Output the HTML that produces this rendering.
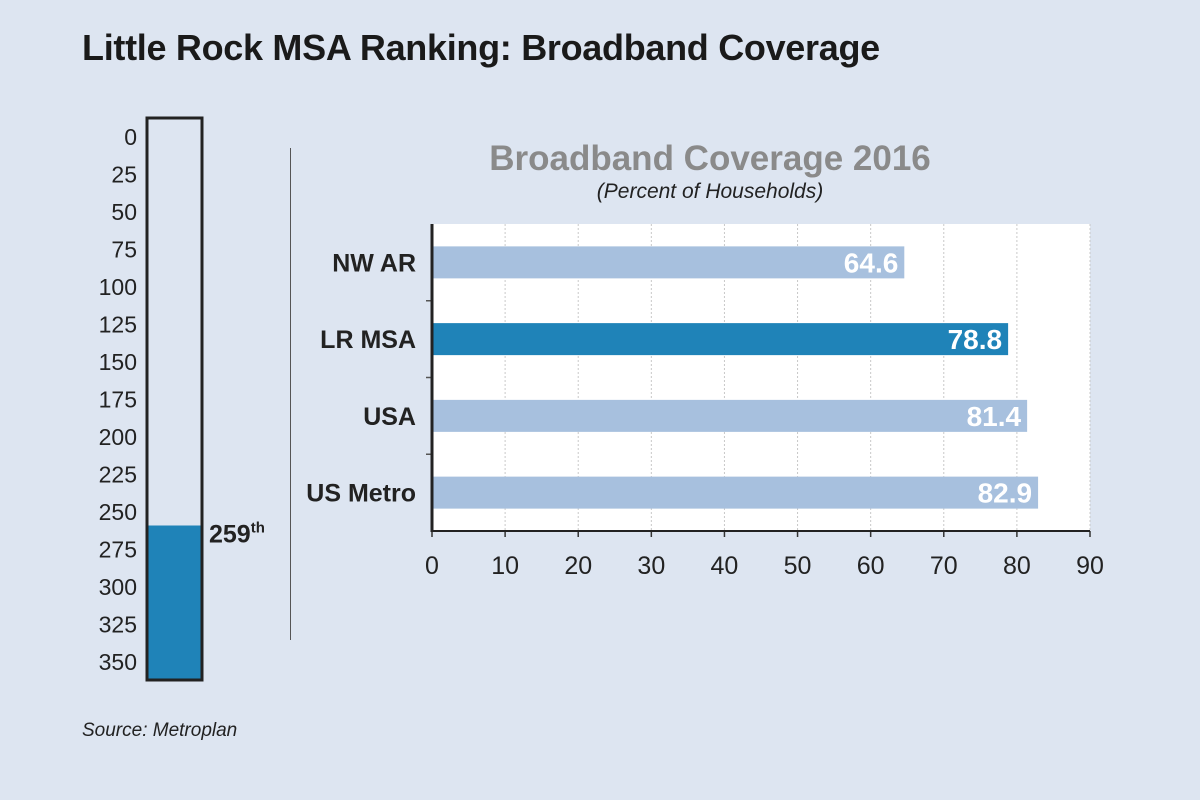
<!DOCTYPE html>
<html><head><meta charset="utf-8"><style>
body{margin:0;width:1200px;height:800px;background:#dde5f1;font-family:"Liberation Sans",sans-serif;overflow:hidden;position:relative}
.abs{position:absolute}
</style></head><body>
<div class="abs" style="left:82px;top:27px;font-size:36px;font-weight:bold;color:#1a1a1a;letter-spacing:-0.3px">Little Rock MSA Ranking: Broadband Coverage</div>
<div class="abs" style="left:82px;top:720px;font-size:19px;font-style:italic;color:#222">Source: Metroplan</div>
<div class="abs" style="left:290px;top:148px;width:1px;height:492px;background:#555"></div>
<svg class="abs" style="left:0;top:0" width="1200" height="800" id="svg">
<text x="710" y="170" text-anchor="middle" font-size="35" font-weight="bold" fill="#8a8a8a" font-family="Liberation Sans">Broadband Coverage 2016</text>
<text x="710" y="198" text-anchor="middle" font-size="21" font-style="italic" fill="#222" font-family="Liberation Sans">(Percent of Households)</text>
</svg>
<script>
const rankTicks=[0,25,50,75,100,125,150,175,200,225,250,275,300,325,350];
const rankValue=[259];
const categories=["NW AR","LR MSA","USA","US Metro"];
const values=[64.6,78.8,81.4,82.9];
const highlight=[false,true,false,false];
const xTicks=[0,10,20,30,40,50,60,70,80,90];
const NS="http://www.w3.org/2000/svg",svg=document.getElementById('svg');
function mk(t,a,p){const e=document.createElementNS(NS,t);for(const k in a)e.setAttribute(k,a[k]);(p||svg).appendChild(e);return e;}
const ry=v=>137+v*1.5;
const therm=mk('rect',{x:147,y:118,width:55,height:562,fill:'none',stroke:'#222','stroke-width':3});


const fill=mk('rect',{x:148.5,y:ry(rankValue[0]),width:52,height:678.5-ry(rankValue[0]),fill:'#1f83b8'});


rankTicks.forEach(t=>{const e=mk('text',{x:137,y:ry(t)+8,'text-anchor':'end','font-size':23,fill:'#222','font-family':'Liberation Sans'});e.textContent=t;

});
const rl=mk('text',{x:209,y:ry(rankValue[0])+17,'font-size':25,'font-weight':'bold',fill:'#222','font-family':'Liberation Sans'});
rl.innerHTML=rankValue[0]+'<tspan font-size="15" dy="-10">th</tspan>';


const X0=432,X1=1090,Y0=224,Y1=531;
const xs=v=>X0+(v-xTicks[0])/(xTicks[xTicks.length-1]-xTicks[0])*(X1-X0);
const band=(Y1-Y0)/categories.length;
const bg=mk('rect',{x:X0,y:Y0,width:X1-X0,height:Y1-Y0,fill:'#fff'});


xTicks.forEach(t=>{if(t>0){const g=mk('line',{x1:xs(t),x2:xs(t),y1:Y0,y2:Y1,stroke:'#c8c8c8','stroke-dasharray':'2,2'});

}
const tk=mk('line',{x1:xs(t),x2:xs(t),y1:Y1,y2:Y1+6,stroke:'#333','stroke-width':1.5});


const l=mk('text',{x:xs(t),y:574,'text-anchor':'middle','font-size':25,fill:'#222','font-family':'Liberation Sans'});l.textContent=t;

});
categories.forEach((c,i)=>{const cy=Y0+band*(i+0.5);
const b=mk('rect',{x:X0,y:cy-16,width:xs(values[i])-X0,height:32,fill:highlight[i]?'#1f83b8':'#a7c0de'});


const v=mk('text',{x:xs(values[i])-6,y:cy+10,'text-anchor':'end','font-size':28,'font-weight':'bold',fill:'#fff','font-family':'Liberation Sans'});v.textContent=values[i].toFixed(1);


const l=mk('text',{x:416,y:cy+9,'text-anchor':'end','font-size':25,'font-weight':'bold',fill:'#222','font-family':'Liberation Sans'});l.textContent=c;


if(i>0){const t=mk('line',{x1:426,x2:432,y1:Y0+band*i,y2:Y0+band*i,stroke:'#555','stroke-width':1.5});

}});
const ya=mk('line',{x1:X0,x2:X0,y1:Y0,y2:Y1+1,stroke:'#222','stroke-width':3});


const xa=mk('line',{x1:X0,x2:X1,y1:Y1,y2:Y1,stroke:'#222','stroke-width':2});


</script>
</body></html>
